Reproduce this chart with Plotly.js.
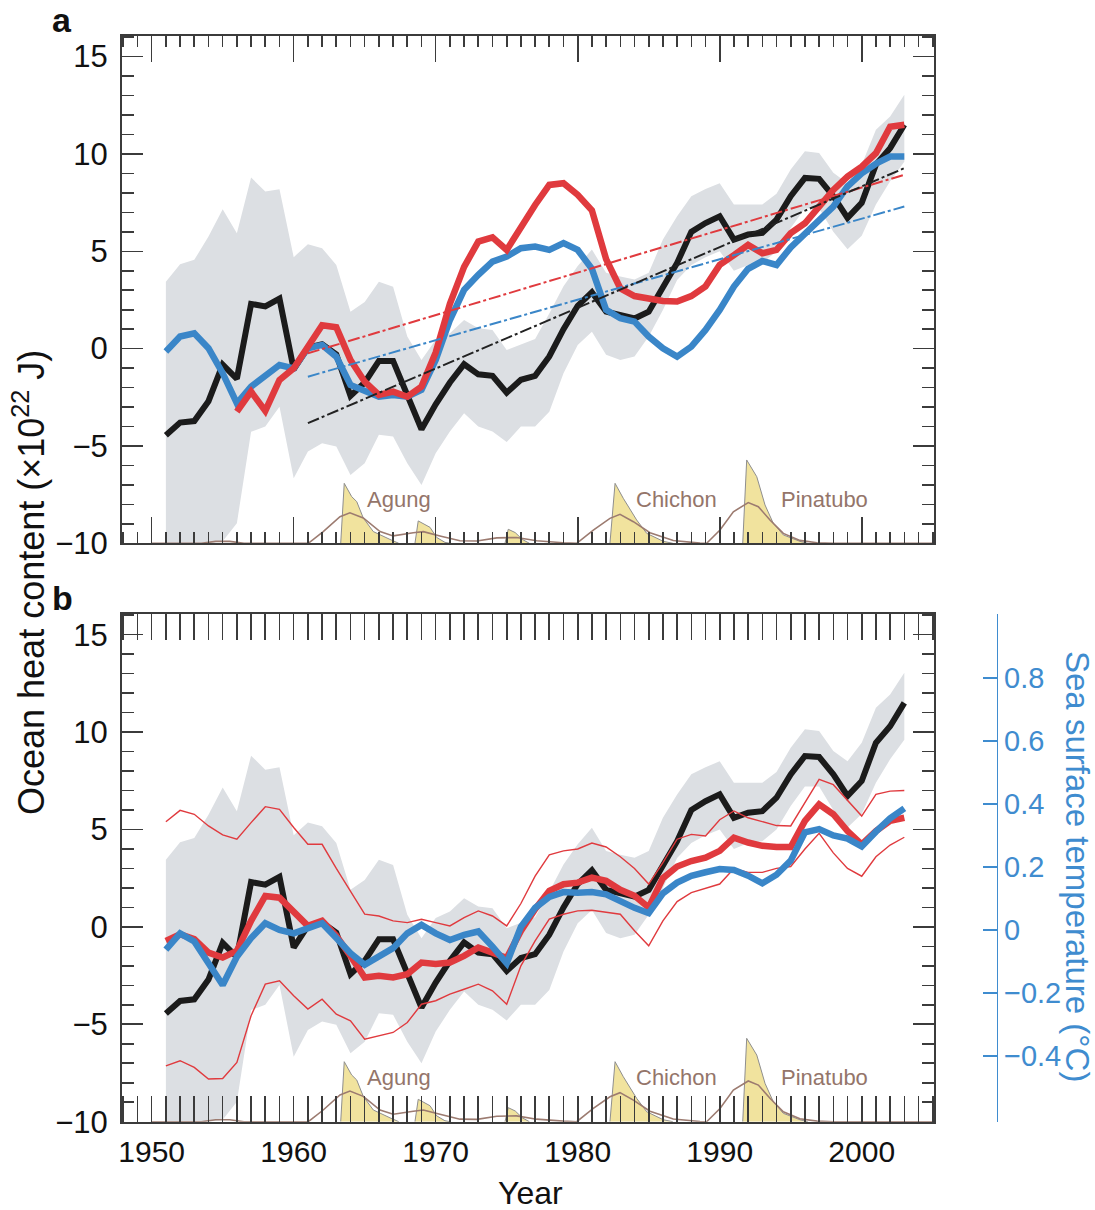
<!DOCTYPE html>
<html><head><meta charset="utf-8">
<script src="https://cdn.plot.ly/plotly-3.0.1.min.js"></script>
<style>html,body{margin:0;padding:0;background:#fff;}#chart{width:1095px;height:1210px;}</style>
</head><body><div id="chart"></div>
<script>
// ---------------- data ----------------
const years = [1951,1952,1953,1954,1955,1956,1957,1958,1959,1960,1961,1962,1963,1964,1965,1966,1967,1968,1969,1970,
  1971,1972,1973,1974,1975,1976,1977,1978,1979,1980,1981,1982,1983,1984,1985,1986,1987,1988,1989,1990,
  1991,1992,1993,1994,1995,1996,1997,1998,1999,2000,2001,2002,2003];

// observed ocean heat content (black) and its uncertainty band (grey)
const obsOHC = [-4.45,-3.80,-3.72,-2.70,-0.82,-1.55,2.30,2.17,2.57,-1.06,0.05,0.22,-0.29,-2.43,-1.74,-0.63,-0.63,-2.43,-4.14,-2.86,
  -1.74,-0.80,-1.32,-1.40,-2.26,-1.60,-1.40,-0.40,1.00,2.20,2.90,1.90,1.70,1.55,1.90,3.20,4.40,6.00,6.45,6.80,
  5.60,5.86,5.94,6.63,7.83,8.77,8.72,7.83,6.72,7.49,9.45,10.30,11.50];
const obsUpper = [3.44,4.34,4.56,5.76,7.16,5.93,8.79,8.07,8.19,4.70,5.36,5.16,4.30,1.90,2.40,3.44,3.18,0.62,-0.58,0.45,
  0.79,1.47,1.05,0.96,-0.07,0.20,0.50,1.80,3.20,4.24,5.09,3.90,3.70,3.55,3.90,5.60,6.80,7.83,8.20,8.50,
  7.40,7.40,7.40,7.95,9.20,10.14,10.05,9.03,8.50,9.45,11.25,11.93,13.04];
const obsLower = [-10,-10,-10,-10,-9.9,-8.97,-4.27,-4.00,-2.98,-6.66,-5.29,-4.86,-5.03,-6.49,-5.89,-4.43,-4.51,-5.89,-7.00,-5.37,
  -4.26,-3.32,-4.00,-4.26,-4.80,-4.00,-4.00,-3.24,-1.27,0.19,0.87,-0.32,-0.58,-0.41,0.62,1.99,3.53,4.30,4.70,5.00,
  4.00,4.30,4.40,5.00,6.20,7.20,7.20,6.00,5.10,5.80,7.40,8.60,9.60];

// panel a: two model simulations (red, blue)
const modelRed = [null,null,null,null,null,-3.24,-2.21,-3.20,-1.61,-1.01,0.10,1.20,1.10,-0.58,-1.70,-2.38,-2.21,-2.47,-1.95,-0.20,
  2.30,4.20,5.50,5.72,5.07,6.27,7.38,8.41,8.50,7.90,7.10,4.60,3.10,2.70,2.55,2.45,2.42,2.70,3.20,4.30,
  4.80,5.33,4.90,5.07,5.93,6.44,7.30,8.15,8.84,9.35,10.04,11.40,11.50];
const modelBlue = [-0.15,0.62,0.79,0.02,-1.26,-2.81,-1.95,-1.35,-0.84,-1.01,0.02,0.19,-0.41,-1.87,-2.21,-2.47,-2.38,-2.47,-2.12,-0.58,
  1.47,3.02,3.79,4.47,4.73,5.16,5.24,5.07,5.42,5.07,4.10,2.00,1.56,1.39,0.62,0.02,-0.41,0.10,0.96,1.99,
  3.19,4.10,4.50,4.30,5.20,5.93,6.62,7.30,8.33,9.00,9.50,9.87,9.87];

// panel a: linear trends 1961-2003
const trendYears = [1961, 2003];
const trendRed = [-0.24, 8.93];
const trendBlue = [-1.44, 7.30];
const trendBlack = [-3.83, 9.27];

// panel b: ensemble mean (thick red) and range (thin red), SST (blue, right axis)
const ensMean = [-0.72,-0.38,-0.63,-1.32,-1.57,-1.23,0.31,1.59,1.50,0.74,0.05,0.31,-0.46,-1.49,-2.60,-2.51,-2.60,-2.43,-1.83,-1.91,
  -1.83,-1.49,-1.06,-1.32,-1.60,-0.21,0.91,1.85,2.19,2.27,2.53,2.36,1.90,1.60,1.00,2.50,3.10,3.38,3.55,3.90,
  4.58,4.33,4.16,4.10,4.10,5.44,6.29,5.78,4.92,4.24,4.92,5.44,5.60];
const ensUpper = [5.40,5.98,5.78,5.18,4.72,4.50,5.35,6.17,6.03,5.10,4.24,4.24,3.00,1.80,0.65,0.56,0.31,0.22,0.39,0.22,
  0.05,0.48,0.82,0.56,0.05,1.20,2.60,3.70,3.90,4.00,4.30,4.10,3.60,3.00,2.20,3.30,4.50,4.75,4.67,5.50,
  5.95,5.60,5.40,5.20,5.18,6.40,7.57,7.30,6.50,5.69,6.80,6.97,7.00];
const ensLower = [-7.13,-6.87,-7.21,-7.81,-7.78,-6.96,-4.56,-2.94,-2.77,-3.54,-4.22,-3.71,-4.48,-4.82,-5.76,-5.59,-5.42,-4.91,-3.97,-3.79,
  -3.45,-3.20,-2.94,-3.28,-3.97,-2.00,-0.72,0.40,0.65,0.82,0.85,0.75,0.65,-0.20,-0.97,0.31,1.30,1.76,2.00,2.20,
  3.00,2.80,2.80,3.00,3.10,4.00,4.80,3.80,3.00,2.60,3.60,4.20,4.60];
const sst = [-0.063,-0.011,-0.037,-0.106,-0.175,-0.085,-0.026,0.021,0.000,-0.011,0.005,0.021,-0.026,-0.074,-0.111,-0.085,-0.058,-0.011,0.016,-0.011,
  -0.032,-0.016,-0.005,-0.053,-0.106,0.010,0.070,0.105,0.120,0.118,0.120,0.113,0.090,0.070,0.053,0.116,0.150,0.172,0.183,0.193,
  0.190,0.172,0.148,0.175,0.220,0.310,0.320,0.300,0.290,0.265,0.312,0.354,0.386];

// volcanic forcing: sharp aerosol spikes (yellow) and smoothed response (brown)
const agungX = [1963.31,1963.56,1964.08,1964.44,1964.90,1965.61,1966.78,1967.4];
const agungY = [-10,-6.92,-7.60,-7.86,-8.70,-9.40,-9.80,-10];
const minor1968X = [1968.54,1968.77,1969.60,1970.07,1970.65,1971.0];
const minor1968Y = [-10,-8.85,-9.18,-9.70,-9.95,-10];
const minor1975X = [1974.88,1975.11,1975.6,1976.1,1976.6];
const minor1975Y = [-10,-9.28,-9.45,-9.80,-10];
const chichonX = [1982.27,1982.63,1983.21,1984.15,1984.86,1986.03,1986.7];
const chichonY = [-10,-6.92,-7.69,-8.80,-9.49,-9.90,-10];
const pinatuboX = [1991.62,1991.90,1992.61,1993.19,1993.77,1994.48,1995.65,1996.2];
const pinatuboY = [-10,-5.72,-6.58,-8.03,-8.97,-9.57,-9.90,-10];
const smoothX = [1950.0,1953.5,1954.5,1955.5,1956.5,1961.03,1962.08,1963.26,1963.96,1964.90,1966.08,1967.01,1968.42,1969.13,1970.30,
  1971.71,1972.9,1974.3,1975.70,1977.11,1978.96,1979.93,1981.1,1982.27,1982.98,1983.92,1985.09,1986.73,1988.61,1989.08,
  1990.02,1990.96,1992.01,1992.72,1993.54,1994.48,1995.65,1996.85,1998.0,2005.1];
const smoothY = [-10,-10,-9.9,-9.9,-10,-10,-9.40,-8.63,-8.43,-8.70,-9.40,-9.62,-9.46,-9.40,-9.62,
  -9.87,-9.88,-9.72,-9.70,-9.87,-9.97,-10,-9.32,-8.72,-8.51,-8.89,-9.46,-9.86,-9.99,-10,
  -9.32,-8.38,-7.91,-8.12,-8.80,-9.49,-9.85,-9.97,-10,-10];
const volcanoNames = ['Agung','Chichon','Pinatubo'];
const volcanoLabelX = [1967.45, 1986.99, 1997.4];
const volcanoLabelY = [-7.75, -7.75, -7.75];

// ticks
const xTickVals = [1950,1955,1960,1965,1970,1975,1980,1985,1990,1995,2000,2005];
const xTickText = ['1950','','1960','','1970','','1980','','1990','','2000',''];
const yTickVals = [-10,-5,0,5,10,15];
const sstTickVals = [-0.4,-0.2,0,0.2,0.4,0.6,0.8];

// ---------------- styling ----------------
const FONT = 'Liberation Sans, Arial, Helvetica, sans-serif';
const FRAME = '#3b3b3b';
const RED = '#e03a3e', BLUE = '#3a86c8', BLACK = '#1b1b1b';
const BAND = '#dcdfe3', YELLOW = '#f1e39e', BROWN = '#9c7b70';
const SSTC = '#3f8ccf';

const traces = [];
function panel(xa, ya) {
  traces.push({x: years, y: obsLower, xaxis: xa, yaxis: ya, mode: 'lines', line: {width: 0, color: BAND}, hoverinfo: 'skip'});
  traces.push({x: years, y: obsUpper, xaxis: xa, yaxis: ya, mode: 'lines', fill: 'tonexty', fillcolor: BAND, line: {width: 0, color: BAND}, hoverinfo: 'skip'});
  [[agungX, agungY], [minor1968X, minor1968Y], [minor1975X, minor1975Y], [chichonX, chichonY], [pinatuboX, pinatuboY]].forEach(([vx, vy]) => {
    traces.push({x: vx, y: vy, xaxis: xa, yaxis: ya, mode: 'lines', fill: 'toself', fillcolor: YELLOW, line: {width: 1, color: '#8e8e8e'}, hoverinfo: 'skip'});
  });
  traces.push({x: smoothX, y: smoothY, xaxis: xa, yaxis: ya, mode: 'lines', line: {width: 1.6, color: BROWN}, hoverinfo: 'skip'});
  traces.push({x: years, y: obsOHC, xaxis: xa, yaxis: ya, mode: 'lines', line: {width: 6, color: BLACK}, name: 'Observed'});
}
panel('x', 'y');
traces.push({x: years, y: modelBlue, xaxis: 'x', yaxis: 'y', mode: 'lines', line: {width: 6.5, color: BLUE}});
traces.push({x: years, y: modelRed, xaxis: 'x', yaxis: 'y', mode: 'lines', line: {width: 6.5, color: RED}});
traces.push({x: trendYears, y: trendRed, xaxis: 'x', yaxis: 'y', mode: 'lines', line: {width: 2, color: RED, dash: '12px,3px,3px,3px'}});
traces.push({x: trendYears, y: trendBlue, xaxis: 'x', yaxis: 'y', mode: 'lines', line: {width: 2, color: BLUE, dash: '12px,3px,3px,3px'}});
traces.push({x: trendYears, y: trendBlack, xaxis: 'x', yaxis: 'y', mode: 'lines', line: {width: 2, color: '#222', dash: '12px,3px,3px,3px'}});

panel('x2', 'y2');
traces.push({x: years, y: ensUpper, xaxis: 'x2', yaxis: 'y2', mode: 'lines', line: {width: 1.4, color: RED}});
traces.push({x: years, y: ensLower, xaxis: 'x2', yaxis: 'y2', mode: 'lines', line: {width: 1.4, color: RED}});
traces.push({x: years, y: ensMean, xaxis: 'x2', yaxis: 'y2', mode: 'lines', line: {width: 6.5, color: RED}});
traces.push({x: years, y: sst, xaxis: 'x2', yaxis: 'y3', mode: 'lines', line: {width: 6.5, color: BLUE}});

const W = 1095, H = 1210;
const px = v => v / W, py = v => 1 - v / H;

function xAxis(showLabels, anchor) {
  return {
    anchor: anchor, domain: [px(122), px(934)], range: [1947.91, 2005.09],
    tickmode: 'array', tickvals: xTickVals, ticktext: xTickText, showticklabels: showLabels,
    ticks: 'inside', ticklen: 26, tickwidth: 1.6, tickcolor: FRAME,
    minor: {dtick: 1, tick0: 1950, ticks: 'inside', ticklen: 11, tickwidth: 1.6, tickcolor: FRAME, showgrid: false},
    showline: true, linecolor: FRAME, linewidth: 2, mirror: 'allticks',
    showgrid: false, zeroline: false, ticklabelstandoff: 2,
    tickfont: {family: FONT, size: 30, color: '#111'}
  };
}
function yAxis(dom, anchor) {
  return {
    anchor: anchor, domain: dom, range: [-10, 16.06],
    tickmode: 'array', tickvals: yTickVals,
    ticks: 'inside', ticklen: 21, tickwidth: 1.6, tickcolor: FRAME,
    minor: {dtick: 1, tick0: 0, ticks: 'inside', ticklen: 12, tickwidth: 1.6, tickcolor: FRAME, showgrid: false},
    showline: true, linecolor: FRAME, linewidth: 2, mirror: 'allticks',
    showgrid: false, zeroline: false, ticklabelstandoff: 6,
    tickfont: {family: FONT, size: 31, color: '#111'}
  };
}

function paperText(text, x, y, size, color, angle) {
  return {text: text, x: px(x), y: py(y), xref: 'paper', yref: 'paper', xanchor: 'center', yanchor: 'middle',
    textangle: angle || 0, showarrow: false, font: {family: FONT, size: size, color: color}};
}
const annotations = [
  paperText('<b>a</b>', 62, 20, 34, '#111'),
  paperText('<b>b</b>', 62, 598, 34, '#111'),
  paperText('Ocean heat content (×10<sup>22</sup> J)', 29, 583, 36, '#111', -90),
  paperText('Sea surface temperature (°C)', 1078, 866, 33, SSTC, 90),
  paperText('Year', 530, 1193, 32, '#111')
];
[['x', 'y'], ['x2', 'y2']].forEach(([xa, ya]) => {
  volcanoNames.forEach((n, i) => annotations.push({text: n, x: volcanoLabelX[i], y: volcanoLabelY[i], xref: xa, yref: ya,
    xanchor: 'center', yanchor: 'middle', showarrow: false, font: {family: FONT, size: 22, color: '#94756a'}}));
});

const layout = {
  width: W, height: H, autosize: false, showlegend: false,
  margin: {l: 0, r: 0, t: 0, b: 0, pad: 0},
  paper_bgcolor: '#fff', plot_bgcolor: 'rgba(0,0,0,0)',
  xaxis: xAxis(false, 'y'),
  yaxis: yAxis([py(543.3), py(36)], 'x'),
  xaxis2: xAxis(true, 'y2'),
  yaxis2: yAxis([py(1121.7), py(614)], 'x2'),
  yaxis3: {
    overlaying: 'y2', side: 'right', anchor: 'free', position: px(996.7),
    range: [-0.609, 1.003], tickmode: 'array', tickvals: sstTickVals,
    ticks: 'inside', ticklen: 14, tickwidth: 1.5, tickcolor: SSTC,
    showline: true, linecolor: SSTC, linewidth: 1.5, showgrid: false, zeroline: false,
    ticklabelstandoff: 0,
    tickfont: {family: FONT, size: 29, color: SSTC}
  },
  annotations: annotations
};
Plotly.newPlot('chart', traces, layout, {staticPlot: true, displayModeBar: false});
</script></body></html>
